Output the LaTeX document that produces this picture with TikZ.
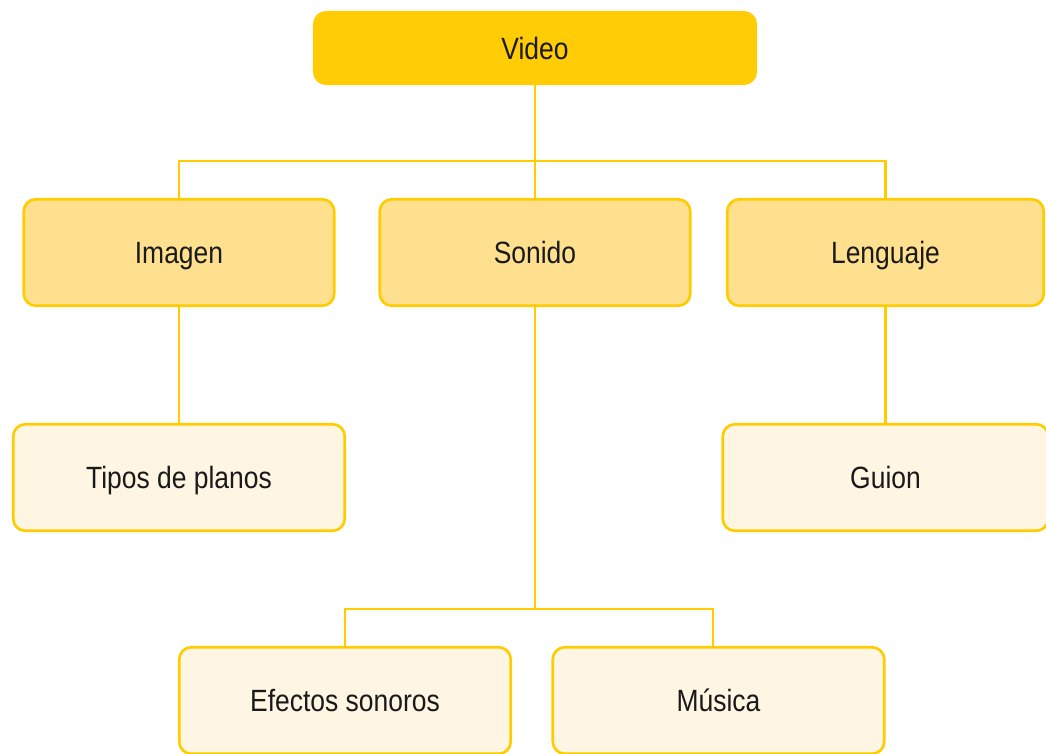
\documentclass[tikz,border=0pt]{standalone}
\usepackage{fontspec}
\setmainfont{Liberation Sans}[FakeStretch=0.86]
\usepackage{tikz}
\usetikzlibrary{positioning}

\definecolor{gold}{HTML}{FFCC05}
\definecolor{lightgold}{HTML}{FEE08F}
\definecolor{cream}{HTML}{FFF5E3}
\definecolor{edge}{HTML}{FFCC00}
\definecolor{ink}{HTML}{1A1A1A}

\begin{document}
\begin{tikzpicture}[
  box/.style={rectangle, rounded corners=0.24cm, draw=edge, line width=1.5pt,
    inner sep=0pt, minimum width=6.21cm, minimum height=2.13cm, text=ink,
    text height=0.44cm, text depth=0pt, font=\fontsize{17.5}{21}\selectfont},
  top/.style={box, draw=gold, fill=gold, minimum width=8.83cm, minimum height=1.43cm},
  mid/.style={box, fill=lightgold},
  low/.style={box, fill=cream, minimum width=6.63cm},
  link/.style={draw=edge, line width=1.5pt}]

  \useasboundingbox (0,0) rectangle (20.92,-15.06);

  \node[top] (a0) at (10.70,-0.96) {Video};

  \node[mid, below of=a0, yshift=-3.09cm] (b1) {Sonido};
  \node[mid, left of=b1, xshift=-6.12cm] (a1) {Imagen};
  \node[mid, right of=b1, xshift=6.01cm, minimum width=6.33cm] (c1) {Lenguaje};

  \node[low, below of=a1, yshift=-3.5cm] (a2) {Tipos de planos};
  \node[low, below of=c1, yshift=-3.5cm, minimum width=6.51cm] (c2) {Guion};

  \node[low, below of=b1, yshift=-7.96cm, xshift=-3.8cm] (a3) {Efectos sonoros};
  \node[low, right of=a3, xshift=6.47cm] (b3) {Música};

  \coordinate (j0) at ([yshift=-1.52cm]a0.south);
  \coordinate (j1) at ([yshift=-6.04cm]b1.south);

  \draw[link] (a0) -- (j0);
  \draw[link] (j0) -| (a1);
  \draw[link] (j0) -- (b1);
  \draw[link] (j0) -| (c1);
  \draw[link] (a1) -- (a2);
  \draw[link] (c1) -- (c2);
  \draw[link] (b1) -- (j1);
  \draw[link] (j1) -| (a3);
  \draw[link] (j1) -| ([xshift=-0.11cm]b3.north);

\end{tikzpicture}
\end{document}
